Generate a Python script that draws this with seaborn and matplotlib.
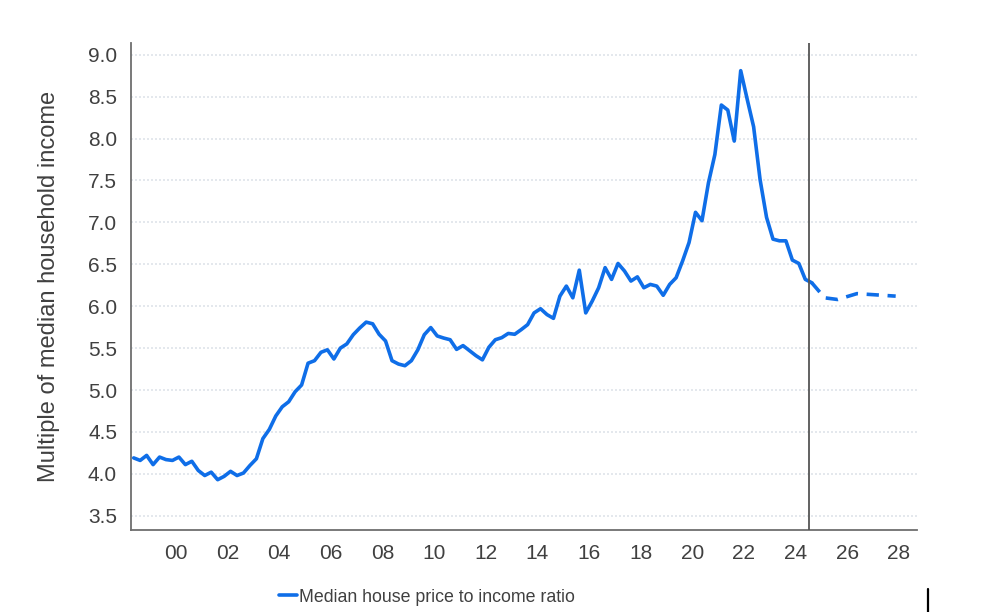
import numpy as np
import pandas as pd
import matplotlib
matplotlib.use("Agg")
import matplotlib.pyplot as plt
from matplotlib.lines import Line2D
import seaborn as sns

# ---------------- data ----------------
start_quarter = "1998Q2"
ratio_actual = [
    4.19, 4.16, 4.22, 4.11, 4.20, 4.17, 4.16, 4.20, 4.11, 4.15,
    4.04, 3.98, 4.02, 3.93, 3.97, 4.03, 3.98, 4.01, 4.10, 4.18,
    4.42, 4.53, 4.69, 4.80, 4.86, 4.98, 5.06, 5.32, 5.35, 5.45,
    5.48, 5.37, 5.50, 5.55, 5.66, 5.74, 5.81, 5.79, 5.665, 5.585,
    5.35, 5.31, 5.29, 5.35, 5.48, 5.66, 5.745, 5.645, 5.62, 5.60,
    5.485, 5.53, 5.47, 5.41, 5.36, 5.51, 5.60, 5.625, 5.675, 5.665,
    5.72, 5.78, 5.92, 5.97, 5.90, 5.855, 6.12, 6.24, 6.10, 6.43,
    5.92, 6.06, 6.22, 6.46, 6.32, 6.51, 6.42, 6.30, 6.35, 6.22,
    6.26, 6.24, 6.13, 6.26, 6.34, 6.54, 6.76, 7.12, 7.02, 7.47,
    7.81, 8.40, 8.34, 7.97, 8.81, 8.47, 8.14, 7.51, 7.06, 6.80,
    6.78, 6.78, 6.55, 6.51, 6.32, 6.28,
]
forecast_years = [2024.625, 2025.125, 2025.625, 2026.375, 2027.875]
ratio_forecast = [6.28, 6.10, 6.08, 6.15, 6.12]
forecast_start = 2024.5
xtick_years = list(range(2000, 2029, 2))
xtick_labels = [f"{y % 100:02d}" for y in xtick_years]
ytick_values = [3.5, 4.0, 4.5, 5.0, 5.5, 6.0, 6.5, 7.0, 7.5, 8.0, 8.5, 9.0]
series_label = "Median house price to income ratio"
y_label = "Multiple of median household income"

# quarter mid-points as decimal years
periods = pd.period_range(start_quarter, periods=len(ratio_actual), freq="Q")
actual_years = [p.year + (p.quarter - 1) / 4 + 0.125 for p in periods]

df_act = pd.DataFrame({"year": actual_years, "ratio": ratio_actual, "series": series_label})
df_fc = pd.DataFrame({"year": forecast_years, "ratio": ratio_forecast})

# ---------------- style ----------------
sns.set_style("white")
plt.rcParams["font.family"] = ["Liberation Sans", "DejaVu Sans"]
text_color = "#404040"
blue = "#0F6EE8"

fig = plt.figure(figsize=(9.96, 6.12), dpi=100)
ax = fig.add_axes([131 / 996, 82 / 612, (917 - 131) / 996, (530 - 43) / 612])

sns.lineplot(data=df_act, x="year", y="ratio", hue="series", palette=[blue],
             linewidth=2.6, ax=ax, legend=True)
sns.lineplot(data=df_fc, x="year", y="ratio", color=blue, linewidth=2.6,
             linestyle=(0, (3.4, 2.4)), ax=ax, legend=False)

ax.axvline(forecast_start, color="#555555", linewidth=1.3, zorder=3)

ax.set_xlim(1998.27, 2028.7)
ax.set_ylim(3.33, 9.14)
ax.set_xticks(xtick_years)
ax.set_xticklabels(xtick_labels)
ax.set_yticks(ytick_values)
ax.set_yticklabels([f"{v:.1f}" for v in ytick_values])

ax.yaxis.grid(True, color="#dfe4ea", linestyle=(0, (1.2, 1.2)), linewidth=1.2)
ax.xaxis.grid(False)
ax.set_axisbelow(True)

for s in ["top", "right"]:
    ax.spines[s].set_visible(False)
for s in ["left", "bottom"]:
    ax.spines[s].set_color("#6e6e6e")
    ax.spines[s].set_linewidth(1.3)

ax.tick_params(axis="both", which="major", direction="out", length=4,
               width=1.2, color="#8a8a8a", labelsize=15, labelcolor=text_color, pad=6)

ax.set_xlabel("")
ax.set_ylabel(y_label, fontsize=17, color=text_color)
ax.yaxis.set_label_coords(-0.090, 0.5)

handles, labels = ax.get_legend_handles_labels()
ax.legend_.remove()
leg = fig.legend(handles[:1], [series_label], loc="center",
                 bbox_to_anchor=(427 / 996, 15 / 612), frameon=False,
                 fontsize=12.8, handlelength=1.0, handletextpad=0.15, borderpad=0)
for t in leg.get_texts():
    t.set_color(text_color)

# small black mark at bottom right of the reference image
fig.add_artist(Line2D([928 / 996, 928 / 996], [0, 23 / 612], color="black",
                      linewidth=1.6, transform=fig.transFigure))

fig.savefig("out.png", dpi=100)
